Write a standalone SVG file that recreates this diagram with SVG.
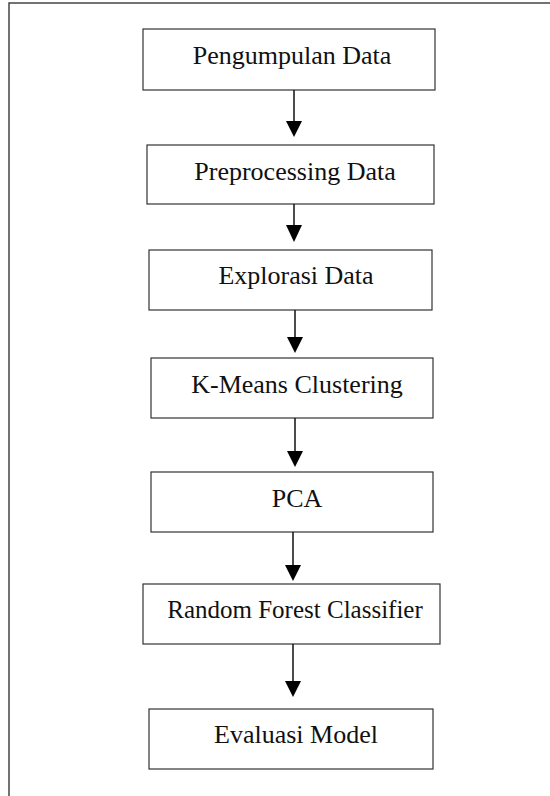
<svg xmlns="http://www.w3.org/2000/svg" width="550" height="796" viewBox="0 0 550 796">
<defs>
<style>
.frame{fill:none;stroke:#444;stroke-width:1.5}
.box{fill:#fff;stroke:#333;stroke-width:1.2}
.lbl{font-family:"Liberation Serif","Times New Roman",serif;font-size:26px;fill:#111;text-anchor:middle}
.conn{stroke:#111;stroke-width:1.5;fill:none}
.head{fill:#000}
</style>
</defs>
<rect width="550" height="796" fill="#fff"/>
<rect class="frame" x="9" y="3" width="560" height="810"/>
<g id="n1"><rect class="box" x="143" y="29" width="292" height="61"/><text class="lbl" x="292" y="64">Pengumpulan Data</text></g>
<g id="n2"><rect class="box" x="147" y="145" width="287" height="59"/><text class="lbl" x="295" y="180">Preprocessing Data</text></g>
<g id="n3"><rect class="box" x="149" y="250" width="283" height="60"/><text class="lbl" x="296" y="284">Explorasi Data</text></g>
<g id="n4"><rect class="box" x="151" y="358" width="282" height="60"/><text class="lbl" x="297" y="393">K-Means Clustering</text></g>
<g id="n5"><rect class="box" x="151" y="472" width="282" height="60"/><text class="lbl" x="297" y="507">PCA</text></g>
<g id="n6"><rect class="box" x="143" y="584" width="297" height="60"/><text class="lbl" x="295" y="618" style="font-size:25px">Random Forest Classifier</text></g>
<g id="n7"><rect class="box" x="149" y="709" width="284" height="60"/><text class="lbl" x="296" y="743">Evaluasi Model</text></g>
<g id="connectors">
<line class="conn" x1="294" y1="90" x2="294" y2="122"/><polygon class="head" points="286,121 302,121 294,137"/>
<line class="conn" x1="294" y1="204" x2="294" y2="226"/><polygon class="head" points="286,225 302,225 294,242"/>
<line class="conn" x1="295" y1="310" x2="295" y2="338"/><polygon class="head" points="287,337 303,337 295,353"/>
<line class="conn" x1="295" y1="418" x2="295" y2="452"/><polygon class="head" points="287,451 303,451 295,467"/>
<line class="conn" x1="293" y1="532" x2="293" y2="566"/><polygon class="head" points="285,565 301,565 293,581"/>
<line class="conn" x1="293" y1="644" x2="293" y2="682"/><polygon class="head" points="285,681 301,681 293,697"/>
</g>
</svg>
